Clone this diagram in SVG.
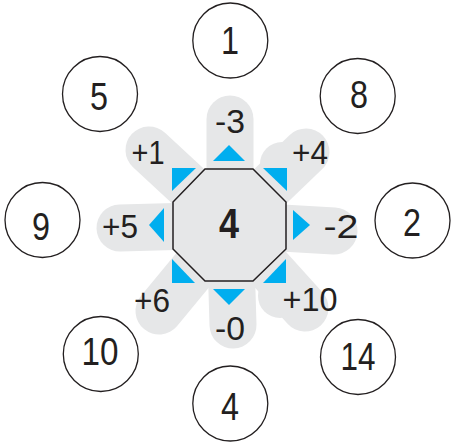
<svg xmlns="http://www.w3.org/2000/svg" width="452" height="444" viewBox="0 0 452 444">
<style>
.petal{stroke:#e6e7e8;stroke-width:47;stroke-linecap:round;fill:none}
.ring{fill:#fff;stroke:#231f20;stroke-width:1.3}
.num{font-family:"Liberation Sans",Arial,sans-serif;font-size:38px;fill:#231f20;text-anchor:middle}
.lbl{font-family:"Liberation Sans",Arial,sans-serif;font-size:34px;fill:#231f20;text-anchor:middle}
.mid{font-family:"Liberation Sans",Arial,sans-serif;font-size:42px;font-weight:bold;fill:#231f20;text-anchor:middle}
.tri{fill:#00aeef}
</style>
<rect width="452" height="444" fill="#fff"/>
<g id="petals" fill="#e6e7e8">
<line class="petal" x1="230" y1="225" x2="230" y2="119"/>
<line class="petal" x1="230" y1="225" x2="149" y2="150"/>
<line class="petal" x1="230" y1="225" x2="306" y2="152"/>
<line class="petal" x1="230" y1="225" x2="120" y2="228"/>
<line class="petal" x1="230" y1="225" x2="334" y2="231"/>
<line class="petal" x1="230" y1="225" x2="159" y2="311"/>
<line class="petal" x1="230" y1="225" x2="233" y2="325"/>
<line class="petal" x1="230" y1="225" x2="305" y2="308"/>
<circle cx="282" cy="164" r="22"/>
<circle cx="280" cy="296" r="22"/>
</g>
<g id="connectors">
<polygon class="tri" points="213,161 245,161 229,145"/>
<polygon class="tri" points="213,289 245,289 229,305"/>
<polygon class="tri" points="164,208 164,242 149,225"/>
<polygon class="tri" points="293,210 293,240 310,225"/>
<polygon class="tri" points="172,168 196,168 172,191"/>
<polygon class="tri" points="263,168 287,168 287,191"/>
<polygon class="tri" points="172,259 172,283 195,283"/>
<polygon class="tri" points="286,259 286,283 263,283"/>
</g>
<g id="center">
<polygon points="205,169 253,169 286,202 286,249 253,281 205,281 173,249 173,202" fill="#e6e7e8" stroke="#231f20" stroke-width="1.5"/>
<text class="mid" x="229" y="238" textLength="20" lengthAdjust="spacingAndGlyphs">4</text>
</g>
<g id="labels">
<text class="lbl" x="230" y="133" textLength="30" lengthAdjust="spacingAndGlyphs">-3</text>
<text class="lbl" x="148" y="164" textLength="33" lengthAdjust="spacingAndGlyphs">+1</text>
<text class="lbl" x="310" y="164" textLength="36" lengthAdjust="spacingAndGlyphs">+4</text>
<text class="lbl" x="120" y="238" textLength="36" lengthAdjust="spacingAndGlyphs">+5</text>
<text class="lbl" x="341" y="238" textLength="35" lengthAdjust="spacingAndGlyphs">-2</text>
<text class="lbl" x="152" y="312" textLength="36" lengthAdjust="spacingAndGlyphs">+6</text>
<text class="lbl" x="310" y="311" textLength="55" lengthAdjust="spacingAndGlyphs">+10</text>
<text class="lbl" x="230" y="340" textLength="30" lengthAdjust="spacingAndGlyphs">-0</text>
</g>
<g id="n1"><circle class="ring" cx="230.3" cy="40.5" r="37.5"/><text class="num" x="230" y="54" textLength="18" lengthAdjust="spacingAndGlyphs">1</text></g>
<g id="n5"><circle class="ring" cx="100" cy="94" r="37.5"/><text class="num" x="99" y="110" textLength="18" lengthAdjust="spacingAndGlyphs">5</text></g>
<g id="n8"><circle class="ring" cx="357.7" cy="96" r="37.5"/><text class="num" x="359" y="108" textLength="18" lengthAdjust="spacingAndGlyphs">8</text></g>
<g id="n9"><circle class="ring" cx="42.5" cy="220" r="37.5"/><text class="num" x="41" y="240" textLength="18" lengthAdjust="spacingAndGlyphs">9</text></g>
<g id="n2"><circle class="ring" cx="412.5" cy="220.5" r="37.5"/><text class="num" x="412" y="236" textLength="18" lengthAdjust="spacingAndGlyphs">2</text></g>
<g id="n10"><circle class="ring" cx="100.8" cy="354" r="37.5"/><text class="num" x="100" y="365" textLength="37" lengthAdjust="spacingAndGlyphs">10</text></g>
<g id="n14"><circle class="ring" cx="358" cy="357" r="37.5"/><text class="num" x="358" y="370" textLength="35" lengthAdjust="spacingAndGlyphs">14</text></g>
<g id="n4"><circle class="ring" cx="230.3" cy="403.5" r="37.5"/><text class="num" x="230" y="420" textLength="18" lengthAdjust="spacingAndGlyphs">4</text></g>
</svg>
